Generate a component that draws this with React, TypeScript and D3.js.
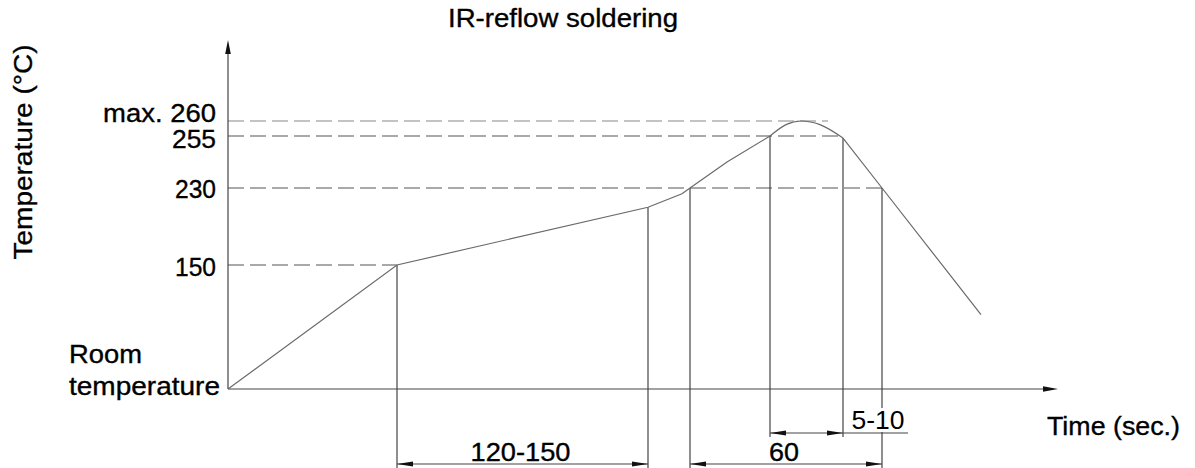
import React from 'react';
import * as d3 from 'd3';

// profile of the reflow curve (time in arbitrary units, temperature in °C)
const profileTime = [0, 84.5, 210, 227, 231, 249.5, 271];
const profileTemp = [25, 150, 210, 224, 230, 242.5, 255];
const peakTime = [271, 279, 286.5, 296, 307.5];
const peakTemp = [255, 258.8, 260, 258.8, 254];
const coolTime = [307.5, 327, 376.5];
const coolTemp = [254, 230, 100];

// y tick labels and the dashed levels
const levelTemps = [260, 255, 230, 150];
const levelLabels = ['max. 260', '255', '230', '150'];
const levelEnds = [300, 307.5, 327, 84.5];

// extension lines (time, temperature where they start, bottom row)
const extTimes = [84.5, 210, 231, 271, 307.5, 327];
const extTemps = [150, 210, 230, 255, 254, 230];
const extLow = [true, true, true, false, false, true];

// dimensions
const dimFrom = [84.5, 231, 271];
const dimTo = [210, 327, 307.5];
const dimLabels = ['120-150', '60', ''];
const dimRow = [0, 0, 1];

const W = 1195;
const H = 468;
const FONT = 'Liberation Sans, Arial, Helvetica, sans-serif';

const x = d3.scaleLinear().domain([0, 415]).range([228, 1058]);
// schematic, not to scale: piecewise linear
const y = d3.scaleLinear().domain([25, 150, 230, 255, 260]).range([389, 265, 188, 136, 121]);

const rowY = [464, 433];
// label baseline shift below each dashed level, and label widths
const labelShift = [1, 12, 10, 11];
const labelWidth = [113, 44, 41, 41];
const dimLabelWidth = [100, 30, 0];

function arrow(tx: number, ty: number, dir: 'l' | 'r' | 'u', len: number, hw: number) {
  if (dir === 'l') return `M${tx},${ty}L${tx + len},${ty - hw}L${tx + len},${ty + hw}Z`;
  if (dir === 'r') return `M${tx},${ty}L${tx - len},${ty - hw}L${tx - len},${ty + hw}Z`;
  return `M${tx},${ty}L${tx - hw},${ty + len}L${tx + hw},${ty + len}Z`;
}

export default function App() {
  const line = d3.line<[number, number]>().x(d => x(d[0])).y(d => y(d[1]));
  const smooth = d3.line<[number, number]>().x(d => x(d[0])).y(d => y(d[1])).curve(d3.curveMonotoneX);

  const prof = profileTime.map((t, i) => [t, profileTemp[i]] as [number, number]);
  const peak = peakTime.map((t, i) => [t, peakTemp[i]] as [number, number]);
  const cool = coolTime.map((t, i) => [t, coolTemp[i]] as [number, number]);

  const x0 = x(0);
  const y0 = y(25);
  const axisColor = '#444';
  const curveColor = '#6a6a6a';
  const sa = 'spacingAndGlyphs';

  return (
    <svg width={W} height={H} style={{ position: 'absolute', left: 0, top: 0, background: '#fff' }}
      fontFamily={FONT}>
      <g fill="#000" stroke="#000" strokeWidth={0.35}>
        <text x={563} y={27} fontSize={26} textAnchor="middle" textLength={230} lengthAdjust={sa}>IR-reflow soldering</text>
        <text transform="translate(32,152) rotate(-90)" fontSize={26} textAnchor="middle"
          textLength={215} lengthAdjust={sa}>Temperature (°C)</text>
        {levelTemps.map((v, i) => (
          <text key={v} x={216} y={y(v) + labelShift[i]} fontSize={26} textAnchor="end"
            textLength={labelWidth[i]} lengthAdjust={sa}>{levelLabels[i]}</text>
        ))}
        <text x={69} y={363} fontSize={25} textLength={73} lengthAdjust={sa}>Room</text>
        <text x={69} y={395} fontSize={25} textLength={151} lengthAdjust={sa}>temperature</text>
        <text x={1047} y={435} fontSize={26} textLength={133} lengthAdjust={sa}>Time (sec.)</text>
      </g>

      {/* dashed levels */}
      {levelTemps.map((v, i) => (
        <line key={v} x1={x0} x2={x(levelEnds[i])} y1={y(v)} y2={y(v)}
          stroke={i === 0 ? '#888' : '#555'} strokeWidth={1.1} strokeDasharray="16,6" />
      ))}

      {/* axes */}
      <line x1={x0} x2={x0} y1={y0} y2={50} stroke={axisColor} strokeWidth={1.2} />
      <path d={arrow(x0, 40, 'u', 14, 2.8)} fill="#111" />
      <line x1={x0} x2={1045} y1={y0} y2={y0} stroke={axisColor} strokeWidth={1.2} />
      <path d={arrow(1058, y0, 'r', 15, 2.8)} fill="#111" />

      {/* extension lines */}
      {extTimes.map((t, i) => (
        <line key={i} x1={x(t)} x2={x(t)} y1={y(extTemps[i])} y2={extLow[i] ? H : 437}
          stroke={axisColor} strokeWidth={1.2} />
      ))}

      {/* profile */}
      <path d={line(prof) || ''} fill="none" stroke={curveColor} strokeWidth={1.2} />
      <path d={smooth(peak) || ''} fill="none" stroke={curveColor} strokeWidth={1.2} />
      <path d={line(cool) || ''} fill="none" stroke={curveColor} strokeWidth={1.2} />

      {/* dimensions */}
      {dimFrom.map((t, i) => {
        const a = x(t), b = x(dimTo[i]), yy = rowY[dimRow[i]];
        return (
          <g key={i}>
            <line x1={a} x2={b} y1={yy} y2={yy} stroke={axisColor} strokeWidth={1.2} />
            <path d={arrow(a, yy, 'l', 16, 2.6)} fill="#111" />
            <path d={arrow(b, yy, 'r', 16, 2.6)} fill="#111" />
            {dimLabels[i] && (
              <text x={(a + b) / 2 - 2} y={yy - 3} fontSize={26} textAnchor="middle" stroke="#000"
                strokeWidth={0.35} textLength={dimLabelWidth[i]} lengthAdjust={sa}>{dimLabels[i]}</text>
            )}
          </g>
        );
      })}

      {/* 5-10 leader */}
      <text x={878} y={429} fontSize={26} textAnchor="middle" stroke="#fff" strokeWidth={6}
        paintOrder="stroke" strokeLinejoin="round" textLength={53} lengthAdjust={sa}>5-10</text>
      <line x1={x(307.5)} x2={908} y1={rowY[1]} y2={rowY[1]} stroke={axisColor} strokeWidth={1.2} />
    </svg>
  );
}
